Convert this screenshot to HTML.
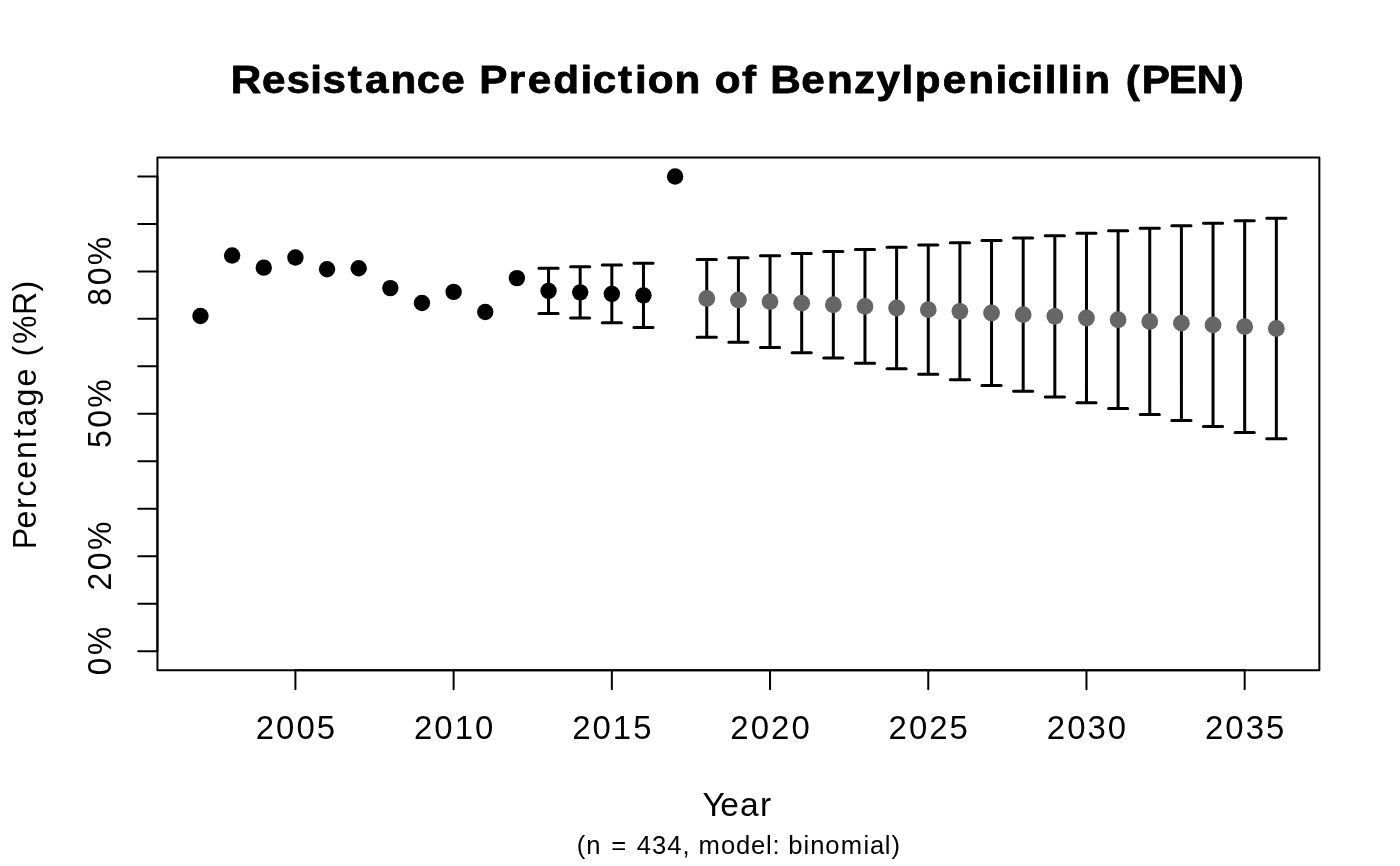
<!DOCTYPE html>
<html lang="en"><head><meta charset="utf-8"><title>Resistance Prediction of Benzylpenicillin (PEN)</title>
<style>
html,body{margin:0;padding:0;background:#fff;}
body{width:1400px;height:866px;overflow:hidden;}
svg{display:block;will-change:transform;}
text{font-family:"Liberation Sans",sans-serif;fill:#000;}
.ln{stroke:#000;stroke-width:2;stroke-linecap:round;stroke-linejoin:round;fill:none;}
.eb{stroke:#000;stroke-width:3;stroke-linecap:round;fill:none;}
</style></head><body>
<svg width="1400" height="866" viewBox="0 0 1400 866">
<rect x="0" y="0" width="1400" height="866" fill="#ffffff"/>
<text transform="translate(738.4 92.5) scale(1.0805 1)" font-size="39.1" font-weight="bold" stroke="#000" stroke-width="0.8" stroke-linejoin="round" vector-effect="non-scaling-stroke" x="-469.93 -440.96 -418.34 -396.24 -385.01 -361.59 -345.47 -321.9 -297.65 -275.08 -251.4 -239.79 -212.59 -195.04 -171.35 -146.03 -134.85 -111.47 -95.8 -84.02 -59.17 -33.82 -21.95 3.41 18.41 29.45 58.28 81.91 107.07 127.89 151 163.3 189.13 212.76 238 249.18 271.24 283.42 295.6 307.78 320.02 345.35 358.57 373.19 398.34 424.27 454.86" y="0">Resistance Prediction of Benzylpenicillin (PEN)</text>
<rect class="ln" x="157.44" y="157.44" width="1161.92" height="512.72"/>
<path class="ln" d="M157.44 651.17V176.43M138.24 651.17H157.44M138.24 603.70H157.44M138.24 556.22H157.44M138.24 508.75H157.44M138.24 461.27H157.44M138.24 413.80H157.44M138.24 366.33H157.44M138.24 318.85H157.44M138.24 271.38H157.44M138.24 223.90H157.44M138.24 176.43H157.44"/>
<path class="ln" d="M295.40 670.16H1244.68M295.40 670.16V689.36M453.62 670.16V689.36M611.83 670.16V689.36M770.04 670.16V689.36M928.26 670.16V689.36M1086.47 670.16V689.36M1244.68 670.16V689.36"/>
<g>
<text transform="translate(295.4 739) scale(1.0105 1)" font-size="32.6" x="-39.28 -19.14 1.01 21.15" y="0">2005</text>
<text transform="translate(453.62 739) scale(1.0105 1)" font-size="32.6" x="-39.28 -19.14 1.01 21.15" y="0">2010</text>
<text transform="translate(611.83 739) scale(1.0105 1)" font-size="32.6" x="-39.28 -19.14 1.01 21.15" y="0">2015</text>
<text transform="translate(770.04 739) scale(1.0105 1)" font-size="32.6" x="-39.28 -19.14 1.01 21.15" y="0">2020</text>
<text transform="translate(928.26 739) scale(1.0105 1)" font-size="32.6" x="-39.28 -19.14 1.01 21.15" y="0">2025</text>
<text transform="translate(1086.47 739) scale(1.0105 1)" font-size="32.6" x="-39.28 -19.14 1.01 21.15" y="0">2030</text>
<text transform="translate(1244.68 739) scale(1.0105 1)" font-size="32.6" x="-39.28 -19.14 1.01 21.15" y="0">2035</text>
</g>
<g>
<text transform="translate(111.25 651.17) rotate(-90) scale(0.9698 1)" font-size="32.6" x="-24.74 -4" y="0">0%</text>
<text transform="translate(111.25 556.22) rotate(-90) scale(0.981 1)" font-size="32.6" x="-34.94 -14.19 6.26" y="0">20%</text>
<text transform="translate(111.25 413.8) rotate(-90) scale(0.981 1)" font-size="32.6" x="-34.94 -14.19 6.26" y="0">50%</text>
<text transform="translate(111.25 271.38) rotate(-90) scale(0.981 1)" font-size="32.6" x="-34.94 -14.19 6.26" y="0">80%</text>
</g>
<text transform="translate(738.4 816) scale(1.0285 1)" font-size="32.6" x="-34.87 -17.55 1.54 21.11" y="0">Year</text>
<text transform="translate(35.5 413.8) rotate(-90) scale(0.9833 1)" font-size="32.6" x="-137.81 -116.77 -96.78 -84.23 -66.18 -45.86 -24.63 -12.82 7.49 27.82 47.54 58.16 70.91 100.4 124.39" y="0">Percentage (%R)</text>
<text transform="translate(738.4 854) scale(1.0101 1)" font-size="25.38" x="-159.99 -150.66 -135.84 -125.99 -108.36 -100.57 -85.45 -70.34 -55.46 -47.91 -39.61 -17.25 -2.44 12.41 27.25 33.85 41.63 49.42 64.49 71.09 85.88 101.22 123.83 130.19 144.99 151.54" y="0">(n = 434, model: binomial)</text>
<path class="eb" d="M548.54 268.28V313.38M538.94 268.28h19.2M538.94 313.38h19.2M580.19 266.71V317.94M570.59 266.71h19.2M570.59 317.94h19.2M611.83 265.05V322.63M602.23 265.05h19.2M602.23 322.63h19.2M643.47 263.3V327.42M633.87 263.3h19.2M633.87 327.42h19.2M706.76 259.59V337.29M697.16 259.59h19.2M697.16 337.29h19.2M738.40 257.65V342.35M728.80 257.65h19.2M728.80 342.35h19.2M770.04 255.66V347.5M760.44 255.66h19.2M760.44 347.5h19.2M801.69 253.61V352.72M792.09 253.61h19.2M792.09 352.72h19.2M833.33 251.52V358.01M823.73 251.52h19.2M823.73 358.01h19.2M864.97 249.38V363.37M855.37 249.38h19.2M855.37 363.37h19.2M896.61 247.2V368.8M887.01 247.2h19.2M887.01 368.8h19.2M928.26 244.98V374.3M918.66 244.98h19.2M918.66 374.3h19.2M959.90 242.72V379.87M950.30 242.72h19.2M950.30 379.87h19.2M991.54 240.41V385.49M981.94 240.41h19.2M981.94 385.49h19.2M1023.18 238.07V391.18M1013.58 238.07h19.2M1013.58 391.18h19.2M1054.83 235.7V396.93M1045.23 235.7h19.2M1045.23 396.93h19.2M1086.47 233.29V402.74M1076.87 233.29h19.2M1076.87 402.74h19.2M1118.11 230.84V408.6M1108.51 230.84h19.2M1108.51 408.6h19.2M1149.76 228.37V414.52M1140.16 228.37h19.2M1140.16 414.52h19.2M1181.40 225.86V420.5M1171.80 225.86h19.2M1171.80 420.5h19.2M1213.04 223.32V426.52M1203.44 223.32h19.2M1203.44 426.52h19.2M1244.68 220.75V432.6M1235.08 220.75h19.2M1235.08 432.6h19.2M1276.33 218.16V438.73M1266.73 218.16h19.2M1266.73 438.73h19.2"/>
<g fill="#000000">
<circle cx="200.47" cy="316.0" r="8.2"/>
<circle cx="232.12" cy="255.5" r="8.2"/>
<circle cx="263.76" cy="267.65" r="8.2"/>
<circle cx="295.40" cy="257.45" r="8.2"/>
<circle cx="327.04" cy="269.25" r="8.2"/>
<circle cx="358.69" cy="268.3" r="8.2"/>
<circle cx="390.33" cy="288.1" r="8.2"/>
<circle cx="421.97" cy="303.0" r="8.2"/>
<circle cx="453.62" cy="291.9" r="8.2"/>
<circle cx="485.26" cy="312.0" r="8.2"/>
<circle cx="516.90" cy="278.1" r="8.2"/>
<circle cx="548.54" cy="290.83" r="8.2"/>
<circle cx="580.19" cy="292.33" r="8.2"/>
<circle cx="611.83" cy="293.84" r="8.2"/>
<circle cx="643.47" cy="295.36" r="8.2"/>
<circle cx="675.11" cy="176.43" r="8.2"/>
</g>
<g fill="#666666">
<circle cx="706.76" cy="298.44" r="8.4"/>
<circle cx="738.40" cy="300.0" r="8.4"/>
<circle cx="770.04" cy="301.58" r="8.4"/>
<circle cx="801.69" cy="303.17" r="8.4"/>
<circle cx="833.33" cy="304.77" r="8.4"/>
<circle cx="864.97" cy="306.38" r="8.4"/>
<circle cx="896.61" cy="308.0" r="8.4"/>
<circle cx="928.26" cy="309.64" r="8.4"/>
<circle cx="959.90" cy="311.29" r="8.4"/>
<circle cx="991.54" cy="312.95" r="8.4"/>
<circle cx="1023.18" cy="314.63" r="8.4"/>
<circle cx="1054.83" cy="316.31" r="8.4"/>
<circle cx="1086.47" cy="318.01" r="8.4"/>
<circle cx="1118.11" cy="319.72" r="8.4"/>
<circle cx="1149.76" cy="321.44" r="8.4"/>
<circle cx="1181.40" cy="323.18" r="8.4"/>
<circle cx="1213.04" cy="324.92" r="8.4"/>
<circle cx="1244.68" cy="326.68" r="8.4"/>
<circle cx="1276.33" cy="328.44" r="8.4"/>
</g>
</svg>
</body></html>
